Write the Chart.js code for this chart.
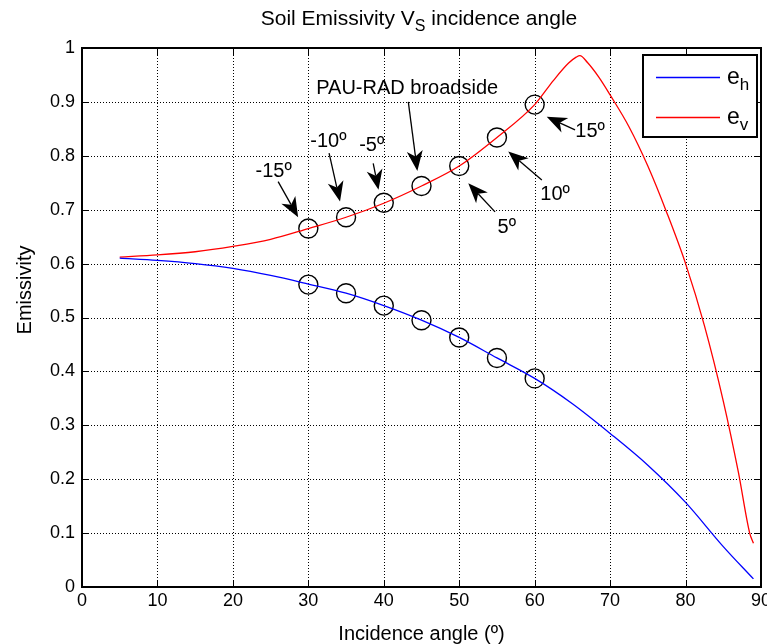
<!DOCTYPE html>
<html>
<head>
<meta charset="utf-8">
<script src="https://cdn.jsdelivr.net/npm/chart.js@4.4.1/dist/chart.umd.min.js"></script>
<style>
html,body{margin:0;padding:0;background:#fff;}
canvas{display:block;}
</style>
</head>
<body>
<canvas id="c" width="767" height="644"></canvas>
<script>
// ---------- data ----------
const anglesH = [5, 10, 15, 20, 25, 30, 35, 40, 45, 50, 55, 60, 65, 70, 75, 80, 85, 89];
const eH      = [0.610, 0.606, 0.600, 0.591, 0.578, 0.562, 0.545, 0.522, 0.495, 0.463, 0.425, 0.387, 0.340, 0.285, 0.226, 0.157, 0.075, 0.015];

const anglesV = [5, 10, 15, 20, 25, 30, 35, 40, 45, 50, 55, 60, 62.5, 64.5, 65.5, 66, 67, 68.5, 70, 72.5, 75, 77.5, 80, 82.5, 85, 87, 88.5, 89];
const eV      = [0.612, 0.616, 0.622, 0.632, 0.645, 0.665, 0.686, 0.712, 0.744, 0.781, 0.834, 0.895, 0.940, 0.972, 0.983, 0.986, 0.973, 0.946, 0.913, 0.854, 0.781, 0.695, 0.600, 0.485, 0.345, 0.213, 0.100, 0.081];

const markerAngles = [30, 35, 40, 45, 50, 55, 60];
const markerEh     = [0.561, 0.545, 0.522, 0.495, 0.463, 0.425, 0.387];
const markerEv     = [0.665, 0.686, 0.713, 0.744, 0.781, 0.834, 0.895];

const xTickValues = [0, 10, 20, 30, 40, 50, 60, 70, 80, 90];
const xTickLabels = ['0', '10', '20', '30', '40', '50', '60', '70', '80', '90'];
const yTickValues = [0, 0.1, 0.2, 0.3, 0.4, 0.5, 0.6, 0.7, 0.8, 0.9, 1];

const titleMain = 'Soil Emissivity V';
const titleSub  = 'S';
const titleRest = ' incidence angle';
const xAxisTitle = 'Incidence angle (º)';
const yAxisTitle = 'Emissivity';
const legendMain = ['e', 'e'];
const legendSub  = ['h', 'v'];

// annotation texts and arrows (data coordinates: angle, emissivity)
const annotationLabels = ['-15º', '-10º', '-5º', 'PAU-RAD broadside', '5º', '10º', '15º'];
const labelAngle   = [25.4, 32.65, 38.4, 43.1, 56.3, 62.7, 67.35];
const labelEmis    = [0.771, 0.826, 0.820, 0.925, 0.667, 0.729, 0.845];
const arrowFromAngle = [26.0, 32.75, 38.6, 43.25, 54.75, 60.95, 65.35];
const arrowFromEmis  = [0.752, 0.805, 0.786, 0.900, 0.696, 0.755, 0.848];
const arrowToAngle   = [28.65, 34.2, 39.3, 44.45, 51.2, 56.5, 61.6];
const arrowToEmis    = [0.686, 0.715, 0.737, 0.772, 0.749, 0.808, 0.8725];

// ---------- drawing ----------
const FONT = '"Liberation Sans", Arial, Helvetica, sans-serif';
const toXY = (xs, ys) => xs.map((v, i) => ({x: v, y: ys[i]}));

function drawArrow(ctx, x1, y1, x2, y2) {
  const dx = x2 - x1, dy = y2 - y1, len = Math.hypot(dx, dy);
  const ux = dx / len, uy = dy / len, nx = -uy, ny = ux;
  const L = 20, W = 8;
  const bx = x2 - ux * L, by = y2 - uy * L;
  const mx = x2 - ux * L * 0.72, my = y2 - uy * L * 0.72;
  ctx.beginPath(); ctx.moveTo(x1, y1); ctx.lineTo(mx, my); ctx.stroke();
  ctx.beginPath();
  ctx.moveTo(x2, y2);
  ctx.lineTo(bx + nx * W, by + ny * W);
  ctx.lineTo(mx, my);
  ctx.lineTo(bx - nx * W, by - ny * W);
  ctx.closePath(); ctx.fill();
}

const dottedGrid = {
  id: 'dottedGrid',
  beforeDatasetsDraw(chart) {
    const {ctx, chartArea: a, scales: {x, y}} = chart;
    ctx.save();
    ctx.strokeStyle = '#000'; ctx.lineWidth = 1;
    ctx.setLineDash([1, 2]);
    xTickValues.forEach(v => {
      const px = Math.round(x.getPixelForValue(v)) + 0.5;
      ctx.beginPath(); ctx.moveTo(px, a.bottom); ctx.lineTo(px, a.top); ctx.stroke();
    });
    yTickValues.forEach(v => {
      const py = Math.round(y.getPixelForValue(v)) + 0.5;
      ctx.beginPath(); ctx.moveTo(a.left, py); ctx.lineTo(a.right, py); ctx.stroke();
    });
    ctx.restore();
  }
};

const overlay = {
  id: 'overlay',
  afterDatasetsDraw(chart) {
    const {ctx, chartArea: a, scales: {x, y}} = chart;
    ctx.save();
    ctx.strokeStyle = '#000'; ctx.fillStyle = '#000';
    // inward tick marks on all four sides
    ctx.lineWidth = 1;
    const T = 7;
    xTickValues.forEach(v => {
      const px = Math.round(x.getPixelForValue(v)) + 0.5;
      ctx.beginPath(); ctx.moveTo(px, a.bottom); ctx.lineTo(px, a.bottom - T);
      ctx.moveTo(px, a.top); ctx.lineTo(px, a.top + T); ctx.stroke();
    });
    yTickValues.forEach(v => {
      const py = Math.round(y.getPixelForValue(v)) + 0.5;
      ctx.beginPath(); ctx.moveTo(a.left, py); ctx.lineTo(a.left + T, py);
      ctx.moveTo(a.right, py); ctx.lineTo(a.right - T, py); ctx.stroke();
    });
    // axes box
    ctx.lineWidth = 2;
    ctx.strokeRect(a.left, a.top, a.right - a.left, a.bottom - a.top);

    // x tick labels (last one runs off the canvas edge as in the original)
    ctx.font = '18px ' + FONT;
    ctx.textAlign = 'center'; ctx.textBaseline = 'top';
    xTickValues.forEach((v, i) => ctx.fillText(xTickLabels[i], x.getPixelForValue(v), a.bottom + 5));

    // annotations
    ctx.lineWidth = 1.3;
    ctx.font = '20px ' + FONT;
    ctx.textAlign = 'center'; ctx.textBaseline = 'middle';
    annotationLabels.forEach((t, i) => {
      ctx.fillText(t, x.getPixelForValue(labelAngle[i]), y.getPixelForValue(labelEmis[i]));
      drawArrow(ctx,
        x.getPixelForValue(arrowFromAngle[i]), y.getPixelForValue(arrowFromEmis[i]),
        x.getPixelForValue(arrowToAngle[i]), y.getPixelForValue(arrowToEmis[i]));
    });

    // legend
    const lx = a.right - 118, ly = a.top + 7, lw = 114, lh = 82;
    ctx.fillStyle = '#fff';
    ctx.fillRect(lx, ly, lw, lh);
    ctx.lineWidth = 2; ctx.strokeStyle = '#000';
    ctx.strokeRect(lx, ly, lw, lh);
    const colors = ['#0000ff', '#ff0000'];
    ctx.textAlign = 'left'; ctx.textBaseline = 'alphabetic';
    [0, 1].forEach(i => {
      const cy = ly + 22 + i * 40;
      ctx.strokeStyle = colors[i]; ctx.lineWidth = 1.3;
      ctx.beginPath(); ctx.moveTo(lx + 13, cy + 0.5); ctx.lineTo(lx + 77, cy + 0.5); ctx.stroke();
      ctx.fillStyle = '#000';
      ctx.font = '23px ' + FONT;
      ctx.fillText(legendMain[i], lx + 84, cy + 7);
      const w = ctx.measureText(legendMain[i]).width;
      ctx.font = '17px ' + FONT;
      ctx.fillText(legendSub[i], lx + 84 + w, cy + 13);
    });

    // title with subscript
    ctx.fillStyle = '#000';
    ctx.font = '21px ' + FONT;
    const w1 = ctx.measureText(titleMain).width;
    const w3 = ctx.measureText(titleRest).width;
    ctx.font = '16px ' + FONT;
    const w2 = ctx.measureText(titleSub).width;
    const tx = 419 - (w1 + w2 + w3) / 2;
    ctx.font = '21px ' + FONT;
    ctx.fillText(titleMain, tx, 25);
    ctx.fillText(titleRest, tx + w1 + w2, 25);
    ctx.font = '16px ' + FONT;
    ctx.fillText(titleSub, tx + w1, 31);

    // y axis title
    ctx.save();
    ctx.translate(25, 290);
    ctx.rotate(-Math.PI / 2);
    ctx.font = '20px ' + FONT;
    ctx.textAlign = 'center'; ctx.textBaseline = 'middle';
    ctx.fillText(yAxisTitle, 0, 0);
    ctx.restore();

    ctx.restore();
  }
};

new Chart(document.getElementById('c'), {
  type: 'line',
  data: {
    datasets: [
      {label: 'e_h', data: toXY(anglesH, eH), borderColor: '#0000ff', borderWidth: 1.3,
       pointRadius: 0, cubicInterpolationMode: 'monotone', fill: false},
      {label: 'e_v', data: toXY(anglesV, eV), borderColor: '#ff0000', borderWidth: 1.3,
       pointRadius: 0, cubicInterpolationMode: 'monotone', fill: false},
      {label: 'h samples', data: toXY(markerAngles, markerEh), showLine: false,
       pointRadius: 9.5, pointStyle: 'circle', pointBorderColor: '#000',
       pointBackgroundColor: 'rgba(0,0,0,0)', pointBorderWidth: 1.4},
      {label: 'v samples', data: toXY(markerAngles, markerEv), showLine: false,
       pointRadius: 9.5, pointStyle: 'circle', pointBorderColor: '#000',
       pointBackgroundColor: 'rgba(0,0,0,0)', pointBorderWidth: 1.4}
    ]
  },
  options: {
    responsive: false,
    animation: false,
    devicePixelRatio: 1,
    events: [],
    layout: {autoPadding: false, padding: {top: 48, right: 6, left: 0, bottom: 0}},
    plugins: {legend: {display: false}, tooltip: {enabled: false}, title: {display: false}},
    scales: {
      x: {
        type: 'linear', min: 0, max: 90,
        afterBuildTicks: s => { s.ticks = xTickValues.map(v => ({value: v})); },
        ticks: {display: false},
        grid: {display: false, drawTicks: false},
        border: {display: false},
        title: {display: true, text: xAxisTitle, color: '#000',
                font: {family: FONT, size: 20, lineHeight: 1}, padding: {top: 0, bottom: 0}},
        afterFit: s => { s.height = 57; s.paddingLeft = 0; s.paddingRight = 0; }
      },
      y: {
        type: 'linear', min: 0, max: 1,
        afterBuildTicks: s => { s.ticks = yTickValues.map(v => ({value: v})); },
        ticks: {font: {family: FONT, size: 18}, color: '#000', padding: 7, autoSkip: false,
                callback: v => String(Math.round(v * 10) / 10)},
        grid: {display: false, drawTicks: false},
        border: {display: false},
        afterFit: s => { s.width = 82; s.paddingTop = 0; s.paddingBottom = 0; }
      }
    }
  },
  plugins: [dottedGrid, overlay]
});
</script>
</body>
</html>
